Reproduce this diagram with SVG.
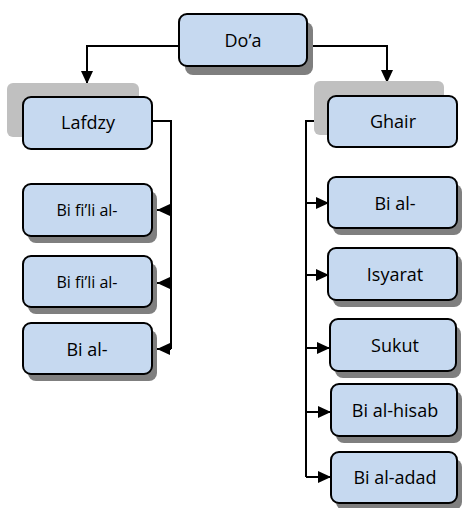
<svg xmlns="http://www.w3.org/2000/svg" width="465" height="508" viewBox="0 0 465 508">
<style>
.sh{fill:#7f7f7f}
.bk{fill:#c0c0c0}
.bx{fill:#c6d9f0;stroke:#000;stroke-width:2}
.t{font-family:"Open Sans","Liberation Sans",sans-serif;font-size:18px;fill:#000;text-anchor:middle;dominant-baseline:central}
.s{font-size:16px}
.c{fill:none;stroke:#000;stroke-width:2}
</style>
<defs>
<marker id="a" markerWidth="13" markerHeight="12" refX="13" refY="6" orient="auto" markerUnits="userSpaceOnUse">
<path d="M0,0 L13,6 L0,12 Z" fill="#000"/>
</marker>
</defs>
<g id="connectors">
<path class="c" d="M179,46 H87 V84" marker-end="url(#a)"/>
<path class="c" d="M307,46 H387 V83" marker-end="url(#a)"/>
<path class="c" d="M152,121 H171 V349"/>
<path class="c" d="M171,210 H157" marker-end="url(#a)"/>
<path class="c" d="M171,283 H157" marker-end="url(#a)"/>
<path class="c" d="M171,349 H157" marker-end="url(#a)"/>
<path class="c" d="M325,121 H306 V477"/>
<path class="c" d="M306,203 H329" marker-end="url(#a)"/>
<path class="c" d="M306,275 H329" marker-end="url(#a)"/>
<path class="c" d="M306,348 H330" marker-end="url(#a)"/>
<path class="c" d="M306,412 H331" marker-end="url(#a)"/>
<path class="c" d="M306,477 H331" marker-end="url(#a)"/>
</g>
<g id="doa">
<rect class="sh" x="185" y="22" width="128" height="53" rx="8"/>
<rect class="bx" x="179" y="14" width="128" height="52" rx="8"/>
<text class="t" x="243" y="40">Do’a</text>
</g>
<g id="lafdzy">
<rect class="bk" x="7" y="83" width="132" height="54" rx="6"/>
<rect class="bx" x="23" y="97" width="129" height="52" rx="8"/>
<text class="t" x="88" y="122">Lafdzy</text>
</g>
<g id="ghair">
<rect class="bk" x="314" y="81" width="130" height="54" rx="6"/>
<rect class="bx" x="328" y="96" width="129" height="51" rx="8"/>
<text class="t" x="393" y="121">Ghair</text>
</g>
<g id="l1">
<rect class="sh" x="28" y="191" width="129" height="52" rx="8"/>
<rect class="bx" x="23" y="184" width="129" height="52" rx="8"/>
<text class="t s" x="87" y="210">Bi fi’li al-</text>
</g>
<g id="l2">
<rect class="sh" x="28" y="263" width="129" height="51" rx="8"/>
<rect class="bx" x="23" y="256" width="129" height="51" rx="8"/>
<text class="t s" x="87" y="282">Bi fi’li al-</text>
</g>
<g id="l3">
<rect class="sh" x="28" y="330" width="129" height="51" rx="8"/>
<rect class="bx" x="23" y="323" width="129" height="51" rx="8"/>
<text class="t" x="87" y="349">Bi al-</text>
</g>
<g id="r1">
<rect class="sh" x="333" y="184" width="129" height="51" rx="8"/>
<rect class="bx" x="328" y="177" width="129" height="51" rx="8"/>
<text class="t" x="395" y="203">Bi al-</text>
</g>
<g id="r2">
<rect class="sh" x="333" y="255" width="129" height="52" rx="8"/>
<rect class="bx" x="328" y="248" width="129" height="52" rx="8"/>
<text class="t" x="395" y="274">Isyarat</text>
</g>
<g id="r3">
<rect class="sh" x="335" y="326" width="126" height="52" rx="8"/>
<rect class="bx" x="330" y="319" width="126" height="52" rx="8"/>
<text class="t" x="395" y="345">Sukut</text>
</g>
<g id="r4">
<rect class="sh" x="336" y="391" width="126" height="52" rx="8"/>
<rect class="bx" x="331" y="384" width="126" height="52" rx="8"/>
<text class="t" x="395" y="410">Bi al-hisab</text>
</g>
<g id="r5">
<rect class="sh" x="336" y="459" width="126" height="51" rx="8"/>
<rect class="bx" x="331" y="452" width="126" height="51" rx="8"/>
<text class="t" x="395" y="477">Bi al-adad</text>
</g>
</svg>
